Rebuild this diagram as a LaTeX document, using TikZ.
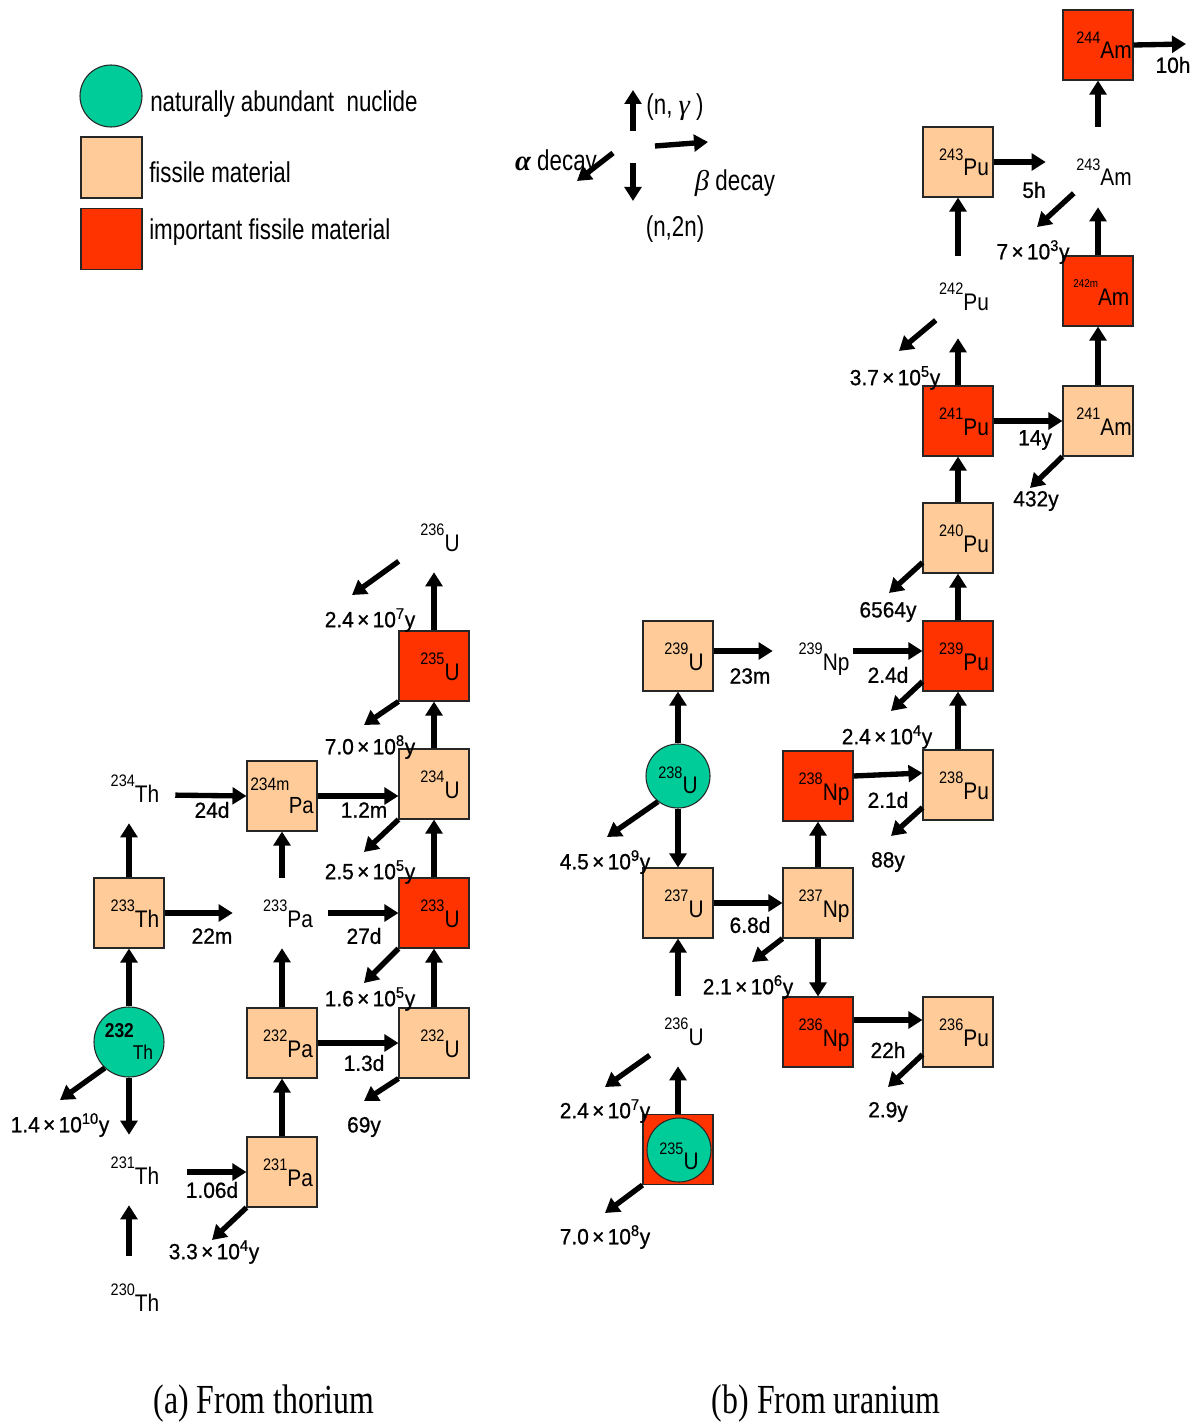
\documentclass[tikz,border=0pt]{standalone}
\usepackage{fontspec}
\setmainfont{Liberation Sans}
\newfontfamily\nucfont{Liberation Sans}[FakeStretch=0.87]
\newfontfamily\legfont{Liberation Sans}[FakeStretch=0.78]
\newfontfamily\lblfont{Liberation Sans}[FakeStretch=0.95,FakeBold=0.8]
\newfontfamily\capfont{Liberation Serif}[FakeStretch=0.77]
\newfontfamily\grkfont{Liberation Serif}
\usetikzlibrary{arrows.meta}
\definecolor{peach}{HTML}{FFCC99}
\definecolor{hot}{HTML}{FF3300}
\definecolor{natc}{HTML}{00CC99}
\newcommand{\nuc}[3][9pt]{\hspace*{#1}\raisebox{11.5pt}{\fontsize{12.5pt}{13pt}\selectfont #2}{\fontsize{18pt}{20pt}\selectfont #3}}
\newcommand{\hlf}[2]{#1\hspace{2.5pt}×\hspace{2.5pt}10\textsuperscript{#2}y}
\tikzset{
 boxbase/.style={rectangle, draw=black!85, line width=0.8pt, minimum width=52.5pt, minimum height=52.5pt, inner sep=0pt},
 nuclab/.style={font=\nucfont, text height=21pt, text depth=0pt},
 fiss/.style={boxbase, fill=peach, nuclab},
 imp/.style={boxbase, fill=hot, nuclab},
 ghost/.style={rectangle, minimum width=52.5pt, minimum height=52.5pt, inner sep=0pt, nuclab},
 natnode/.style={circle, draw=black!85, line width=0.8pt, fill=natc, inner sep=0pt},
 arr/.style={line width=4pt, -{Triangle[length=10.5pt,width=12.5pt]}},
 lbl/.style={font=\lblfont\fontsize{16.5pt}{18pt}\selectfont, inner sep=0pt},
 leg/.style={font=\legfont\fontsize{21.5pt}{24pt}\selectfont, inner sep=0pt, anchor=west},
 capt/.style={font=\capfont\fontsize{31pt}{34pt}\selectfont, inner sep=0pt}
}
\begin{document}
\begin{tikzpicture}[x=0.75pt,y=-0.75pt]
\useasboundingbox (0,0) rectangle (1200,1423);
\fill[white] (0,0) rectangle (1200,1423);

% ---------- legend ----------
\node[natnode, minimum size=46.5pt] (legC) at (111,96) {};
\node[boxbase, fill=peach, minimum size=45.75pt] (legF) at (111.5,167.5) {};
\node[boxbase, fill=hot, minimum size=45.75pt] (legI) at (111.5,239) {};
\node[leg] (legCt) at (150,104) {naturally abundant~~nuclide};
\node[leg] (legFt) at (149,172) {fissile material};
\node[leg] (legIt) at (149,232) {important fissile material};

% ---------- key ----------
\coordinate (kU1) at (633,131); \coordinate (kU2) at (633,90);
\coordinate (kR1) at (655,146); \coordinate (kR2) at (708,142);
\coordinate (kD1) at (633,163); \coordinate (kD2) at (633,201);
\coordinate (kA1) at (613,153); \coordinate (kA2) at (577,181);
\draw[arr] (kU1) -- (kU2);
\draw[arr] (kR1) -- (kR2);
\draw[arr] (kD1) -- (kD2);
\draw[arr] (kA1) -- (kA2);
\node[leg, anchor=center] (kUl) at (675,107) {(n, {\grkfont\itshape γ} )};
\node[leg, anchor=center] (kRl) at (735,183) {{\grkfont\itshape β} decay};
\node[leg, anchor=center] (kDl) at (675,229) {(n,2n)};
\node[leg, anchor=center] (kAl) at (556,163) {{\grkfont\bfseries\itshape α} decay};

% ---------- (a) thorium chain ----------
\node[ghost] (thU236) at (434,537) {\nuc{236}{U}};
\node[imp] (U235a) at (434,666) {\nuc{235}{U}};
\node[fiss] (U234a) at (434,784) {\nuc{234}{U}};
\node[imp] (U233a) at (434,913) {\nuc{233}{U}};
\node[fiss] (U232a) at (434,1043) {\nuc{232}{U}};
\node[boxbase, fill=peach, align=left, font=\nucfont\fontsize{17.5pt}{17pt}\selectfont] (Pa234m) at (282,796) {{\fontsize{13.5pt}{14pt}\selectfont 234m}\\\hspace*{29pt}Pa};
\node[ghost] (Pa233) at (282,913) {\nuc{233}{Pa}};
\node[fiss] (Pa232) at (282,1043) {\nuc{232}{Pa}};
\node[fiss] (Pa231) at (282,1172) {\nuc{231}{Pa}};
\node[ghost] (Th234) at (129,788) {\nuc{234}{Th}};
\node[fiss] (Th233) at (129,913) {\nuc{233}{Th}};
\node[natnode, minimum size=52.5pt, align=left, font=\nucfont\fontsize{15pt}{16.5pt}\selectfont] (Th232) at (129,1042) {{\bfseries 232}\\\hspace*{21pt}Th};
\node[ghost] (Th231) at (129,1170) {\nuc{231}{Th}};
\node[ghost] (Th230) at (129,1297) {\nuc{230}{Th}};

\coordinate (cA1) at (60,1100);
\coordinate (cA2) at (212,1240);
\coordinate (cA3) at (364,1101);
\coordinate (cA4) at (364,983);
\coordinate (cA5) at (364,852);
\coordinate (cA6) at (364,725);
\coordinate (cA7) at (352,595);

\draw[arr] (Th232.north) -- (Th233.south);
\draw[arr] (Th232.south) -- (Th231.north);
\draw[arr] (Th232.-133) -- (cA1);
\draw[arr] (Th233.north) -- (Th234.south);
\draw[arr, shorten >=10.5pt] (Th233.east) -- (Pa233.west);
\draw[arr, shorten <=8.25pt] ([yshift=-5.25pt]Th234.east) -- (Pa234m.west);
\draw[arr] (Pa233.north) -- (Pa234m.south);
\draw[arr, shorten <=8.25pt] (Pa233.east) -- (U233a.west);
\draw[arr] (Pa232.north) -- (Pa233.south);
\draw[arr] (Pa232.east) -- (U232a.west);
\draw[arr] (Pa231.north) -- (Pa232.south);
\draw[arr, shorten <=17.25pt] ([yshift=-1.5pt]Th231.east) -- (Pa231.west);
\draw[arr, shorten <=4.5pt] (Th230.north) -- (Th231.south);
\draw[arr] (Pa231.south west) -- (cA2);
\draw[arr] (Pa234m.east) -- ([yshift=-9pt]U234a.west);
\draw[arr] (U232a.north) -- (U233a.south);
\draw[arr] (U233a.north) -- (U234a.south);
\draw[arr] (U234a.north) -- (U235a.south);
\draw[arr] (U235a.north) -- (thU236.south);
\draw[arr] (U232a.south west) -- (cA3);
\draw[arr] (U233a.south west) -- (cA4);
\draw[arr] (U234a.south west) -- (cA5);
\draw[arr] (U235a.south west) -- (cA6);
\draw[arr] ([yshift=8.25pt]thU236.south west) -- (cA7);

\node[lbl] (t1) at (60,1125) {\hlf{1.4}{10}};
\node[lbl] (t2) at (214,1252) {\hlf{3.3}{4}};
\node[lbl] (t3) at (212,936) {22m};
\node[lbl] (t4) at (212,810) {24d};
\node[lbl] (t5) at (364,936) {27d};
\node[lbl] (t6) at (364,1063) {1.3d};
\node[lbl] (t7) at (212,1190) {1.06d};
\node[lbl] (t8) at (364,810) {1.2m};
\node[lbl] (t9) at (364,1127) {69y};
\node[lbl] (t10) at (370,999) {\hlf{1.6}{5}};
\node[lbl] (t11) at (370,872) {\hlf{2.5}{5}};
\node[lbl] (t12) at (370,747) {\hlf{7.0}{8}};
\node[lbl] (t13) at (370,620) {\hlf{2.4}{7}};

% ---------- (b) uranium chain ----------
\node[fiss] (U239) at (678,656) {\nuc{239}{U}};
\node[natnode, minimum size=48pt, nuclab, text height=26.5pt] (U238) at (678,776) {\nuc[0pt]{238}{U}};
\node[fiss] (U237) at (678,903) {\nuc{237}{U}};
\node[ghost] (bU236) at (678,1031) {\nuc{236}{U}};
\node[boxbase, fill=hot] (U235bx) at (678,1149.5) {};
\node[natnode, minimum size=48pt, nuclab, text height=29.5pt] (U235b) at (679,1150) {\nuc[0pt]{235}{U}};
\node[ghost] (Np239) at (818,656) {\nuc{239}{Np}};
\node[imp] (Np238) at (818,786) {\nuc{238}{Np}};
\node[fiss] (Np237) at (818,903) {\nuc{237}{Np}};
\node[imp] (Np236) at (818,1032) {\nuc{236}{Np}};
\node[fiss] (Pu236) at (958,1032) {\nuc{236}{Pu}};
\node[fiss] (Pu238) at (958,785) {\nuc{238}{Pu}};
\node[imp] (Pu239) at (958,656) {\nuc{239}{Pu}};
\node[fiss] (Pu240) at (958,538) {\nuc{240}{Pu}};
\node[imp] (Pu241) at (958,421) {\nuc{241}{Pu}};
\node[ghost] (Pu242) at (958,296) {\nuc{242}{Pu}};
\node[fiss] (Pu243) at (958,162) {\nuc{243}{Pu}};
\node[fiss] (Am241) at (1098,421) {\nuc{241}{Am}};
\node[imp] (Am242m) at (1098,291) {\hspace*{5pt}\raisebox{13pt}{\fontsize{8.5pt}{9pt}\selectfont 242m}{\fontsize{18pt}{20pt}\selectfont Am}};
\node[ghost] (Am243) at (1098,172) {\nuc{243}{Am}};
\node[imp] (Am244) at (1098,45) {\nuc{244}{Am}};

\coordinate (cB1) at (607,837);
\coordinate (cB2) at (891,711);
\coordinate (cB3) at (891,836);
\coordinate (cB4) at (752,962);
\coordinate (cB5) at (605,1087);
\coordinate (cB6) at (605,1213);
\coordinate (cB7) at (888,1087);
\coordinate (cB8) at (889,593);
\coordinate (cB9) at (1030,488);
\coordinate (cB10) at (899,351);
\coordinate (cB11) at (1037,227);
\coordinate (e244) at (1186,44);

\draw[arr] (U238.north) -- (U239.south);
\draw[arr] (U238.south) -- (U237.north);
\draw[arr] (U238.-128) -- (cB1);
\draw[arr, shorten >=7.5pt] ([yshift=3.75pt]U239.east) -- ([yshift=3.75pt]Np239.west);
\draw[arr] ([yshift=3.75pt]Np239.east) -- ([yshift=3.75pt]Pu239.west);
\draw[arr] ([yshift=7.5pt]Pu239.south west) -- (cB2);
\draw[arr] ([yshift=7.5pt]Np238.east) -- ([yshift=9pt]Pu238.west);
\draw[arr] (Pu238.north) -- (Pu239.south);
\draw[arr] ([yshift=9.75pt]Pu238.south west) -- (cB3);
\draw[arr] (U237.east) -- (Np237.west);
\draw[arr] (Np237.north) -- (Np238.south);
\draw[arr] (Np237.south) -- (Np236.north);
\draw[arr] (Np237.south west) -- (cB4);
\draw[arr] (bU236.north) -- (U237.south);
\draw[arr] ([xshift=5.25pt,yshift=8.25pt]bU236.south west) -- (cB5);
\draw[arr] (U235bx.north) -- (bU236.south);
\draw[arr] (U235bx.south west) -- (cB6);
\draw[arr] ([yshift=9pt]Np236.east) -- ([yshift=9pt]Pu236.west);
\draw[arr] ([yshift=9.75pt]Pu236.south west) -- (cB7);
\draw[arr] (Pu239.north) -- (Pu240.south);
\draw[arr] (Pu240.north) -- (Pu241.south);
\draw[arr] ([yshift=8.25pt]Pu240.south west) -- (cB8);
\draw[arr, shorten >=5.25pt] (Pu241.north) -- (Pu242.south);
\draw[arr] (Pu241.east) -- (Am241.west);
\draw[arr] (Am241.north) -- (Am242m.south);
\draw[arr] (Am241.south west) -- (cB9);
\draw[arr] ([xshift=9.75pt,yshift=8.25pt]Pu242.south west) -- (cB10);
\draw[arr] ([yshift=3.75pt]Pu242.north) -- (Pu243.south);
\draw[arr, shorten >=12.75pt] (Pu243.east) -- ([yshift=7.5pt]Am243.west);
\draw[arr] ([xshift=8.25pt,yshift=10.5pt]Am243.south west) -- (cB11);
\draw[arr] (Am242m.north) -- (Am243.south);
\draw[arr] ([yshift=7.5pt]Am243.north) -- (Am244.south);
\draw[arr] (Am244.east) -- (e244);

\node[lbl] (s1) at (605,862) {\hlf{4.5}{9}};
\node[lbl] (s2) at (750,676) {23m};
\node[lbl] (s3) at (888,675) {2.4d};
\node[lbl] (s4) at (887,737) {\hlf{2.4}{4}};
\node[lbl] (s5) at (888,800) {2.1d};
\node[lbl] (s6) at (888,862) {88y};
\node[lbl] (s7) at (750,925) {6.8d};
\node[lbl] (s8) at (748,987) {\hlf{2.1}{6}};
\node[lbl] (s9) at (605,1111) {\hlf{2.4}{7}};
\node[lbl] (s10) at (605,1237) {\hlf{7.0}{8}};
\node[lbl] (s11) at (888,1050) {22h};
\node[lbl] (s12) at (888,1112) {2.9y};
\node[lbl] (s13) at (888,612) {6564y};
\node[lbl] (s14) at (1035,440) {14y};
\node[lbl] (s15) at (1036,501) {432y};
\node[lbl] (s16) at (895,378) {\hlf{3.7}{5}};
\node[lbl] (s17) at (1034,190) {5h};
\node[lbl] (s18) at (1033,252) {\hlf{7}{3}};
\node[lbl] (s19) at (1173,65) {10h};

% ---------- captions ----------
\node[capt] (capA) at (264,1404) {(a) From thorium};
\node[capt] (capB) at (826,1404) {(b) From uranium};
\end{tikzpicture}
\end{document}
